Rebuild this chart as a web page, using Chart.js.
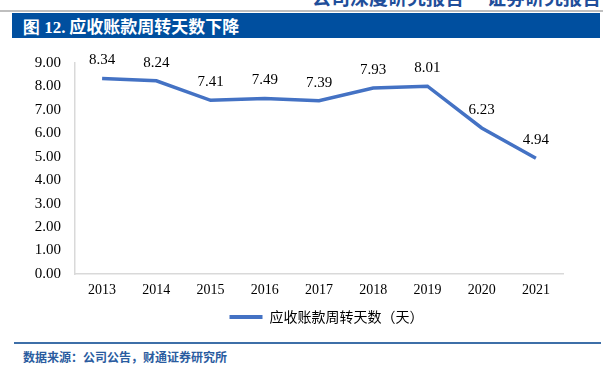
<!DOCTYPE html>
<html><head><meta charset="utf-8">
<script src="https://cdn.jsdelivr.net/npm/chart.js@4.4.1/dist/chart.umd.min.js"></script>
<style>
html,body{margin:0;padding:0;background:#fff;width:612px;height:380px;overflow:hidden;position:relative;font-family:"Noto Sans CJK SC",sans-serif;}
#hdr{position:absolute;left:312px;top:-13px;font-size:19px;font-weight:bold;color:#1F4E9A;white-space:nowrap;line-height:19px;}
#hdr span{margin-right:23px;}
#gline{position:absolute;left:0;top:10px;width:603px;height:2px;background:#BFBFBF;}
#bar{position:absolute;left:12px;top:13px;width:588px;height:25px;background:#004F9F;color:#fff;font-size:17px;font-weight:bold;line-height:25px;box-sizing:border-box;padding-left:11px;white-space:nowrap;}
#bar .n{font-family:"Liberation Serif",serif;}
#wrap{position:absolute;left:0;top:40px;width:612px;height:300px;}
#bline{position:absolute;left:14px;top:342px;width:587px;height:2px;background:#3E6FA8;}
#src{position:absolute;left:23px;top:349px;font-size:12px;font-weight:bold;color:#2A5CA0;white-space:nowrap;line-height:16px;}
</style></head>
<body>
<div id="hdr"><span>公司深度研究报告</span>证券研究报告</div>
<div id="gline"></div>
<div id="bar"><span class="n">图 12.</span> 应收账款周转天数下降</div>
<div id="wrap"><canvas id="c" width="612" height="300"></canvas></div>
<div id="bline"></div>
<div id="src">数据来源：公司公告，财通证券研究所</div>
<script>
const categories = ['2013','2014','2015','2016','2017','2018','2019','2020','2021'];
const seriesName = '应收账款周转天数（天）';
const turnoverDays = [8.34, 8.24, 7.41, 7.49, 7.39, 7.93, 8.01, 6.23, 4.94];
const yTicks = [0,1,2,3,4,5,6,7,8,9];

const labelPlugin = {
  id: 'valueLabels',
  afterLayout(chart) {
    const lg = chart.legend;
    if (lg) { lg.left += 45; lg.right += 45; }
  },
  afterDatasetsDraw(chart) {
    const ctx = chart.ctx;
    const meta = chart.getDatasetMeta(0);
    ctx.save();
    ctx.font = '15px "Liberation Serif", serif';
    ctx.fillStyle = '#000';
    ctx.textAlign = 'center';
    ctx.textBaseline = 'middle';
    meta.data.forEach((pt, i) => {
      ctx.fillText(turnoverDays[i].toFixed(2), pt.x, pt.y - 18);
    });
    ctx.restore();
  }
};

new Chart(document.getElementById('c'), {
  type: 'line',
  data: {
    labels: categories,
    datasets: [{
      label: seriesName,
      data: turnoverDays,
      borderColor: '#4472C4',
      backgroundColor: '#4472C4',
      borderWidth: 3.5,
      pointRadius: 0,
      tension: 0,
      fill: false
    }]
  },
  options: {
    responsive: false,
    animation: false,
    layout: { padding: { left: 0, right: 49, top: 22, bottom: 6 } },
    plugins: {
      tooltip: { enabled: false },
      legend: {
        position: 'bottom',
        labels: {
          boxWidth: 33,
          boxHeight: 4,
          color: '#000',
          font: { family: '"Noto Sans CJK SC", sans-serif', size: 14 },
          padding: 6,
          generateLabels(chart) {
            return [{ text: seriesName, fillStyle: '#4472C4', strokeStyle: '#4472C4', lineWidth: 0, datasetIndex: 0, fontColor: '#000' }];
          }
        }
      }
    },
    scales: {
      x: {
        offset: true,
        afterFit(scale) { scale.height = 30; },
        grid: { display: false, drawTicks: false },
        border: { display: true, color: '#D9D9D9', width: 1.5 },
        ticks: { color: '#000', font: { family: '"Liberation Serif", serif', size: 14 }, padding: 8, maxRotation: 0 }
      },
      y: {
        min: 0, max: 9,
        afterFit(scale) { scale.width = 75; },
        afterBuildTicks(scale) { scale.ticks = yTicks.map(v => ({ value: v })); },
        grid: { display: false, drawTicks: false },
        border: { display: true, color: '#D9D9D9', width: 1.5 },
        ticks: { color: '#000', font: { family: '"Liberation Serif", serif', size: 15 }, padding: 14, callback: v => Number(v).toFixed(2) }
      }
    }
  },
  plugins: [labelPlugin]
});
</script>
</body></html>
